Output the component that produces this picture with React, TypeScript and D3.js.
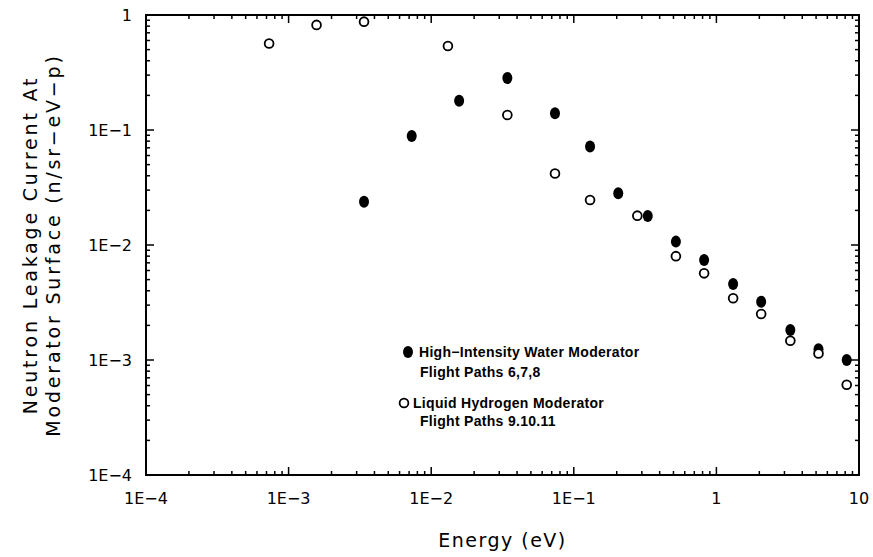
import * as d3 from "d3";

// energy (eV) and leakage current
const waterEnergy = [0.00338, 0.0073, 0.0157, 0.0342, 0.0738, 0.13, 0.205, 0.33, 0.52, 0.82, 1.31, 2.06, 3.3, 5.2, 8.2];
const waterCurrent = [0.0238, 0.0887, 0.18, 0.283, 0.14, 0.072, 0.0282, 0.0179, 0.0107, 0.0074, 0.00458, 0.00321, 0.00182, 0.00124, 0.001];

const hydrogenEnergy = [0.00073, 0.00157, 0.00338, 0.0131, 0.0342, 0.0738, 0.13, 0.279, 0.52, 0.82, 1.31, 2.06, 3.3, 5.2, 8.2];
const hydrogenCurrent = [0.565, 0.82, 0.875, 0.537, 0.135, 0.0419, 0.0246, 0.018, 0.008, 0.00567, 0.00344, 0.00251, 0.00147, 0.00114, 0.00061];

const xTicks = [1e-4, 1e-3, 1e-2, 1e-1, 1, 10];
const xTickLabels = ["1E\u22124", "1E\u22123", "1E\u22122", "1E\u22121", "1", "10"];
const yTicks = [1e-4, 1e-3, 1e-2, 1e-1, 1];
const yTickLabels = ["1E\u22124", "1E\u22123", "1E\u22122", "1E\u22121", "1"];

const width = 873;
const height = 557;
const margin = { top: 15, right: 14, bottom: 82, left: 146 };

function minorTicks(domain: number[]) {
  const out: number[] = [];
  for (let e = Math.log10(domain[0]); e < Math.log10(domain[1]); e++) {
    for (let m = 2; m <= 9; m++) out.push(m * Math.pow(10, e));
  }
  return out;
}

export default function App() {
  const x = d3
    .scaleLog()
    .domain([1e-4, 10])
    .range([margin.left, width - margin.right]);
  const y = d3
    .scaleLog()
    .domain([1e-4, 1])
    .range([height - margin.bottom, margin.top]);

  const [x0, x1] = x.range();
  const [y0, y1] = y.range();
  const xMinor = minorTicks(x.domain());
  const yMinor = minorTicks(y.domain());
  const tickFont = "DejaVu Sans, sans-serif";

  return (
    <svg
      width={width}
      height={height}
      style={{ position: "absolute", left: 0, top: 0, background: "#fff" }}
    >
      {/* inward ticks on all four sides */}
      <g stroke="#000" strokeWidth={1.5}>
        {xMinor.map((t) => (
          <g key={"xm" + t}>
            <line x1={x(t)} x2={x(t)} y1={y0} y2={y0 - 4} />
            <line x1={x(t)} x2={x(t)} y1={y1} y2={y1 + 4} />
          </g>
        ))}
        {xTicks.map((t) => (
          <g key={"xM" + t}>
            <line x1={x(t)} x2={x(t)} y1={y0} y2={y0 - 8} />
            <line x1={x(t)} x2={x(t)} y1={y1} y2={y1 + 8} />
          </g>
        ))}
        {yMinor.map((t) => (
          <g key={"ym" + t}>
            <line x1={x0} x2={x0 + 4} y1={y(t)} y2={y(t)} />
            <line x1={x1} x2={x1 - 4} y1={y(t)} y2={y(t)} />
          </g>
        ))}
        {yTicks.map((t) => (
          <g key={"yM" + t}>
            <line x1={x0} x2={x0 + 8} y1={y(t)} y2={y(t)} />
            <line x1={x1} x2={x1 - 8} y1={y(t)} y2={y(t)} />
          </g>
        ))}
      </g>
      <rect
        x={x0}
        y={y1}
        width={x1 - x0}
        height={y0 - y1}
        fill="none"
        stroke="#000"
        strokeWidth={2}
      />

      {/* tick labels */}
      <g fontFamily={tickFont} fontSize={16} fill="#000">
        {xTicks.map((t, i) => (
          <text key={"xl" + t} x={x(t)} y={y0 + 29} textAnchor="middle">
            {xTickLabels[i]}
          </text>
        ))}
        {yTicks.map((t, i) => (
          <text key={"yl" + t} x={x0 - 14} y={y(t)} dy="0.36em" textAnchor="end">
            {yTickLabels[i]}
          </text>
        ))}
      </g>

      {/* axis titles */}
      <text
        x={(x0 + x1) / 2}
        y={547}
        textAnchor="middle"
        fontFamily={tickFont}
        fontSize={19}
        letterSpacing={1.5}
      >
        Energy (eV)
      </text>
      <g
        transform={`translate(0,${(y0 + y1) / 2}) rotate(-90)`}
        fontFamily={tickFont}
        fontSize={19}
        letterSpacing={2.8}
        textAnchor="middle"
      >
        <text x={0} y={37}>Neutron Leakage Current At</text>
        <text x={0} y={60}>Moderator Surface (n/sr{"\u2212"}eV{"\u2212"}p)</text>
      </g>

      {/* data */}
      <g>
        {waterEnergy.map((e, i) => (
          <ellipse key={"w" + i} cx={x(e)} cy={y(waterCurrent[i])} rx={5} ry={6} fill="#000" />
        ))}
        {hydrogenEnergy.map((e, i) => (
          <circle
            key={"h" + i}
            cx={x(e)}
            cy={y(hydrogenCurrent[i])}
            r={4.4}
            fill="#fff"
            stroke="#000"
            strokeWidth={1.8}
          />
        ))}
      </g>

      {/* legend */}
      <g
        fontFamily="Liberation Sans, Arial, sans-serif"
        fontWeight="bold"
        fontSize={14}
        letterSpacing={0.3}
      >
        <ellipse cx={408} cy={352} rx={5} ry={6} fill="#000" />
        <text x={419} y={357}>High{"\u2212"}Intensity Water Moderator</text>
        <text x={420} y={377}>Flight Paths 6,7,8</text>
        <circle cx={404} cy={403} r={4.4} fill="#fff" stroke="#000" strokeWidth={1.8} />
        <text x={413} y={408}>Liquid Hydrogen Moderator</text>
        <text x={420} y={426}>Flight Paths 9.10.11</text>
      </g>
    </svg>
  );
}
